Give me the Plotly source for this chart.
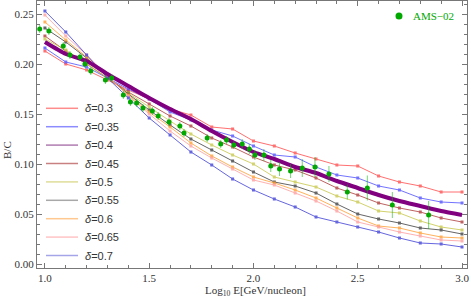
import plotly.graph_objects as go

# ---------------- data ----------------
log_e = [1.0, 1.1, 1.2, 1.3, 1.4, 1.5, 1.6, 1.7, 1.8, 1.9, 2.0,
         2.1, 2.2, 2.3, 2.4, 2.5, 2.6, 2.7, 2.8, 2.9, 3.0]

deltas = ["0.3", "0.35", "0.4", "0.45", "0.5", "0.55", "0.6", "0.65", "0.7"]

bc_d030 = [0.213, 0.200, 0.194, 0.184, 0.174, 0.165, 0.155, 0.149, 0.137, 0.135, 0.123,
           0.118, 0.111, 0.105, 0.099, 0.098, 0.088, 0.082, 0.078, 0.072, 0.072]
bc_d035 = [0.216, 0.202, 0.197, 0.186, 0.175, 0.165, 0.152, 0.144, 0.134, 0.128, 0.118,
           0.109, 0.107, 0.097, 0.089, 0.086, 0.078, 0.074, 0.066, 0.062, 0.061]
bc_d040 = [0.222, 0.210, 0.203, 0.190, 0.178, 0.166, 0.155, 0.145, 0.133, 0.122, 0.112,
           0.105, 0.097, 0.091, 0.083, 0.076, 0.069, 0.063, 0.058, 0.053, 0.049]
bc_d045 = [0.228, 0.213, 0.200, 0.186, 0.172, 0.160, 0.148, 0.138, 0.126, 0.117, 0.107,
           0.099, 0.094, 0.086, 0.076, 0.069, 0.061, 0.056, 0.052, 0.046, 0.042]
bc_d050 = [0.225, 0.214, 0.200, 0.186, 0.171, 0.157, 0.143, 0.130, 0.119, 0.109, 0.100,
           0.087, 0.082, 0.077, 0.068, 0.062, 0.053, 0.051, 0.043, 0.037, 0.034]
bc_d055 = [0.236, 0.222, 0.206, 0.187, 0.170, 0.154, 0.139, 0.125, 0.114, 0.103, 0.092,
           0.082, 0.078, 0.071, 0.060, 0.050, 0.045, 0.041, 0.036, 0.034, 0.030]
bc_d060 = [0.242, 0.224, 0.207, 0.187, 0.169, 0.152, 0.137, 0.121, 0.108, 0.097, 0.087,
           0.081, 0.074, 0.066, 0.056, 0.046, 0.038, 0.036, 0.031, 0.027, 0.026]
bc_d065 = [0.249, 0.228, 0.209, 0.188, 0.168, 0.150, 0.133, 0.118, 0.106, 0.095, 0.084,
           0.079, 0.071, 0.063, 0.053, 0.042, 0.037, 0.032, 0.028, 0.024, 0.023]
bc_d070 = [0.253, 0.232, 0.209, 0.186, 0.166, 0.146, 0.129, 0.112, 0.099, 0.085, 0.074,
           0.065, 0.057, 0.047, 0.042, 0.037, 0.032, 0.026, 0.021, 0.020, 0.017]

ams_x = [0.975, 1.019, 1.088, 1.12, 1.168, 1.192, 1.22, 1.29, 1.32, 1.376, 1.41, 1.44,
         1.47, 1.515, 1.543, 1.595, 1.647, 1.667, 1.778, 1.843, 1.871, 1.906, 1.946,
         1.98, 2.007, 2.05, 2.083, 2.125, 2.178, 2.234, 2.295, 2.362, 2.45, 2.546,
         2.666, 2.84]
ams_y = [0.235, 0.233, 0.218, 0.209, 0.207, 0.200, 0.193, 0.184, 0.186, 0.169, 0.162, 0.161,
         0.156, 0.153, 0.148, 0.142, 0.138, 0.131, 0.126, 0.120, 0.124, 0.119, 0.120,
         0.115, 0.109, 0.109, 0.098, 0.095, 0.093, 0.096, 0.097, 0.090, 0.072, 0.076,
         0.059, 0.049]
ams_err = [0.004, 0.004, 0.004, 0.004, 0.004, 0.004, 0.004, 0.004, 0.004, 0.004, 0.004, 0.004,
           0.004, 0.004, 0.004, 0.004, 0.004, 0.004, 0.004, 0.004, 0.004, 0.004, 0.005,
           0.005, 0.005, 0.006, 0.006, 0.007, 0.007, 0.009, 0.010, 0.008, 0.0075, 0.0125,
           0.013, 0.014]

series = [bc_d030, bc_d035, bc_d040, bc_d045, bc_d050, bc_d055, bc_d060, bc_d065, bc_d070]

# ---------------- styles ----------------
line_colors = ['#ff4d4d', '#5050ff', '#800080', '#b03c3c', '#c8c84a',
               '#404040', '#ffa033', '#ff9e9e', '#4040d8']
legend_colors = ['#ff8c8c', '#8c8cff', '#b07cb0', '#c88080', '#dede9a',
                 '#a8a8a8', '#ffc890', '#ffc4c4', '#a4a4e8']
green = '#00a800'
serif = 'Liberation Serif'
sans = 'Liberation Sans'

fig = go.Figure()

for i, ys in enumerate(series):
    if deltas[i] == "0.4":
        continue
    fig.add_trace(go.Scatter(
        x=log_e, y=ys, mode='lines+markers',
        line=dict(color=line_colors[i], width=1),
        marker=dict(color=line_colors[i], size=3, symbol='square'),
        opacity=0.8, showlegend=False, hoverinfo='skip'))

# thick delta=0.4 curve
fig.add_trace(go.Scatter(
    x=log_e, y=bc_d040, mode='lines',
    line=dict(color=line_colors[2], width=4, shape='spline', smoothing=0.6),
    showlegend=False, hoverinfo='skip'))

# AMS-02 data
fig.add_trace(go.Scatter(
    x=ams_x, y=ams_y, mode='markers',
    marker=dict(color=green, size=5),
    error_y=dict(type='data', array=ams_err, color='rgba(0,180,0,0.55)',
                 thickness=1, width=0),
    showlegend=False, hoverinfo='skip'))

# ---------------- manual legend ----------------
PL, PR, PT, PB = 37, 467, 1, 268
def px(xp):
    return (xp - PL) / (PR - PL)
def py(yp):
    return (PB - yp) / (PB - PT)

shapes = []
annotations = []
for i, d in enumerate(deltas):
    yp = 108.3 + i * 18.4
    shapes.append(dict(type='line', xref='paper', yref='paper',
                       x0=px(46), x1=px(78), y0=py(yp), y1=py(yp),
                       line=dict(color=legend_colors[i], width=1.5)))
    annotations.append(dict(xref='paper', yref='paper', x=px(83), y=py(yp),
                            xanchor='left', yanchor='middle', showarrow=False,
                            text='<i>δ</i>=' + d,
                            font=dict(family=sans, size=11, color='#333333')))

# AMS-02 legend
r = 3.5
shapes.append(dict(type='circle', xref='paper', yref='paper',
                   x0=px(399 - r), x1=px(399 + r), y0=py(16 + r), y1=py(16 - r),
                   fillcolor=green, line=dict(color=green, width=0)))
annotations.append(dict(xref='paper', yref='paper', x=px(411), y=py(16),
                        xanchor='left', yanchor='middle', showarrow=False,
                        text='AMS−02', font=dict(family=serif, size=11, color=green)))

# axis titles
annotations.append(dict(xref='paper', yref='paper', x=px(255), y=py(291),
                        xanchor='center', yanchor='middle', showarrow=False,
                        text='Log<sub>10</sub> E[GeV/nucleon]',
                        font=dict(family=serif, size=11, color='#333333')))
annotations.append(dict(xref='paper', yref='paper', x=px(7), y=py(150),
                        xanchor='center', yanchor='middle', showarrow=False,
                        textangle=-90, text='B/C',
                        font=dict(family=serif, size=11, color='#333333')))

axis_common = dict(showgrid=False, zeroline=False, showline=True, linecolor='#777777',
                   linewidth=1, ticks='inside', tickcolor='#777777', ticklen=5,
                   mirror='allticks',
                   tickfont=dict(family=serif, size=11, color='#333333'))

fig.update_layout(
    width=471, height=299,
    margin=dict(l=PL, r=471 - PR, t=PT, b=299 - PB),
    paper_bgcolor='white', plot_bgcolor='white',
    xaxis=dict(range=[0.962, 3.024],
               tickvals=[1.0, 1.5, 2.0, 2.5, 3.0],
               ticktext=['1.0', '1.5', '2.0', '2.5', '3.0'],
               minor=dict(dtick=0.1, tick0=1.0, ticks='inside', ticklen=3,
                          tickcolor='#777777'),
               **axis_common),
    yaxis=dict(range=[-0.004, 0.263],
               tickvals=[0.0, 0.05, 0.10, 0.15, 0.20, 0.25],
               ticktext=['0.00', '0.05', '0.10', '0.15', '0.20', '0.25'],
               minor=dict(dtick=0.01, tick0=0.0, ticks='inside', ticklen=3,
                          tickcolor='#777777'),
               **axis_common),
    shapes=shapes, annotations=annotations, showlegend=False)

fig.write_html("out.html",
               config={'displayModeBar': False},
               post_script="document.body.style.margin='0';"
                           "document.body.style.overflow='hidden';")
